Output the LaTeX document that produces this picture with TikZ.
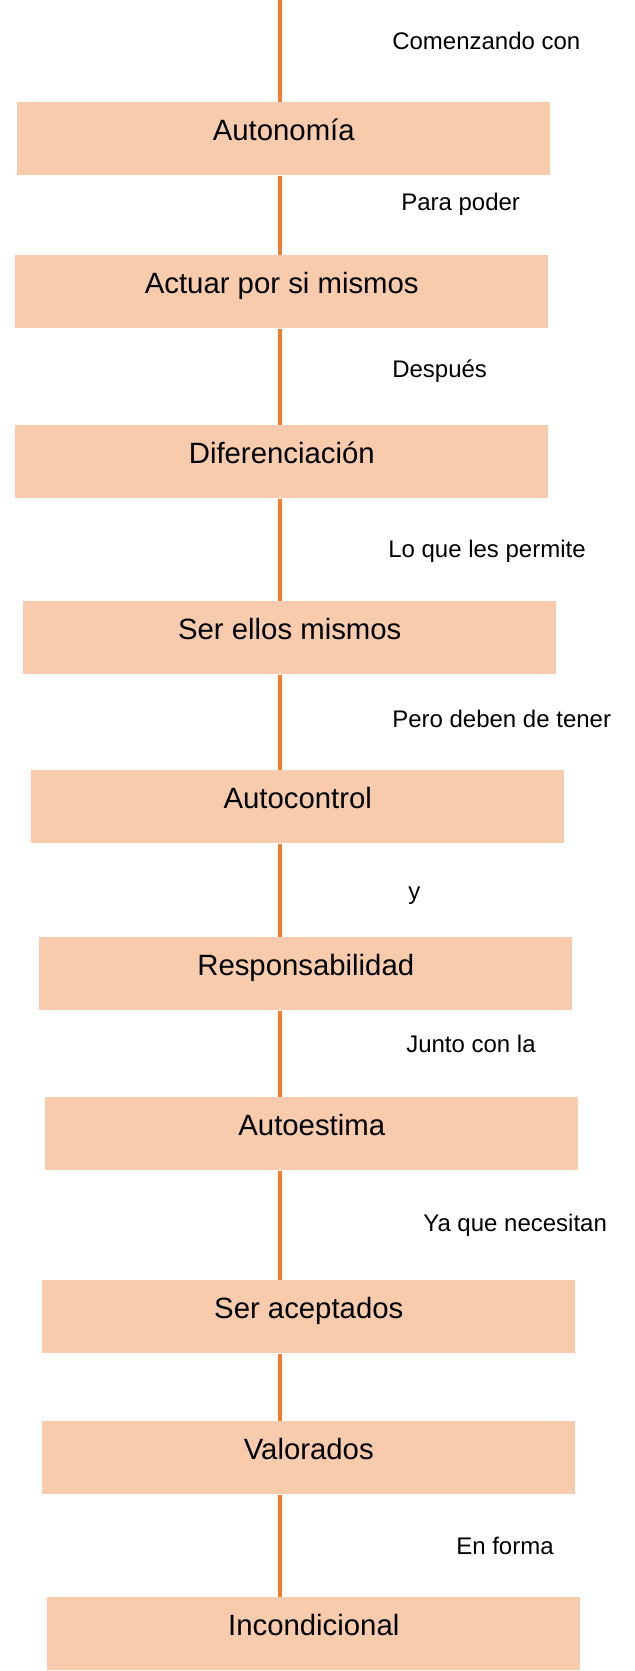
\documentclass[tikz,border=0pt]{standalone}
\usepackage{fontspec}
\setmainfont{Liberation Sans}
\usepackage{tikz}
\definecolor{naranja}{HTML}{ED7D31}
\definecolor{durazno}{HTML}{F8CBAD}
\tikzset{
	caja/.style={fill=durazno, inner sep=0pt, anchor=north west, minimum width=399.75pt,
		text height=28.5pt, text depth=26.25pt, font=\fontsize{22}{26}\selectfont},
	etiqueta/.style={anchor=base west, inner sep=0pt, font=\fontsize{18}{22}\selectfont},
	enlace/.style={line width=3pt, color=naranja}
}
\begin{document}
\begin{tikzpicture}[x=0.75pt, y=-0.75pt]
		%%%%% START %%%%%
		\useasboundingbox (0, 0) rectangle (635, 1671);
		
		\coordinate (eje) at (279.5, 0);
		
		\node[caja] (auto) at (17, 102) {Autonomía};
		\node[caja] (actuar) at (15, 255) {Actuar por si mismos};
		\node[caja] (dif) at (15, 425) {Diferenciación};
		\node[caja] (ser) at (23, 601) {Ser ellos mismos};
		\node[caja] (autoc) at (31, 770) {Autocontrol};
		\node[caja] (resp) at (39, 937) {Responsabilidad};
		\node[caja] (autoe) at (45, 1097) {Autoestima};
		\node[caja] (acep) at (42, 1280) {Ser aceptados};
		\node[caja] (val) at (42, 1421) {Valorados};
		\node[caja] (inc) at (47, 1597) {Incondicional};
		
		\node[etiqueta] (e1) at (392, 49) {Comenzando con};
		\node[etiqueta] (e2) at (401, 210) {Para poder};
		\node[etiqueta] (e3) at (392, 377) {Después};
		\node[etiqueta] (e4) at (388, 557) {Lo que les permite};
		\node[etiqueta] (e5) at (392, 727) {Pero deben de tener};
		\node[etiqueta] (e6) at (408, 899) {y};
		\node[etiqueta] (e7) at (406, 1052) {Junto con la};
		\node[etiqueta] (e8) at (423, 1231) {Ya que necesitan};
		\node[etiqueta] (e9) at (456, 1554) {En forma};
		
		\draw[enlace] (eje) -- (auto.north -| eje);
		\draw[enlace] (auto.south -| eje) -- (actuar.north -| eje);
		\draw[enlace] (actuar.south -| eje) -- (dif.north -| eje);
		\draw[enlace] (dif.south -| eje) -- (ser.north -| eje);
		\draw[enlace] (ser.south -| eje) -- (autoc.north -| eje);
		\draw[enlace] (autoc.south -| eje) -- (resp.north -| eje);
		\draw[enlace] (resp.south -| eje) -- (autoe.north -| eje);
		\draw[enlace] (autoe.south -| eje) -- (acep.north -| eje);
		\draw[enlace] (acep.south -| eje) -- (val.north -| eje);
		\draw[enlace] (val.south -| eje) -- (inc.north -| eje);
		%%%%% END %%%%%
\end{tikzpicture}
\end{document}
